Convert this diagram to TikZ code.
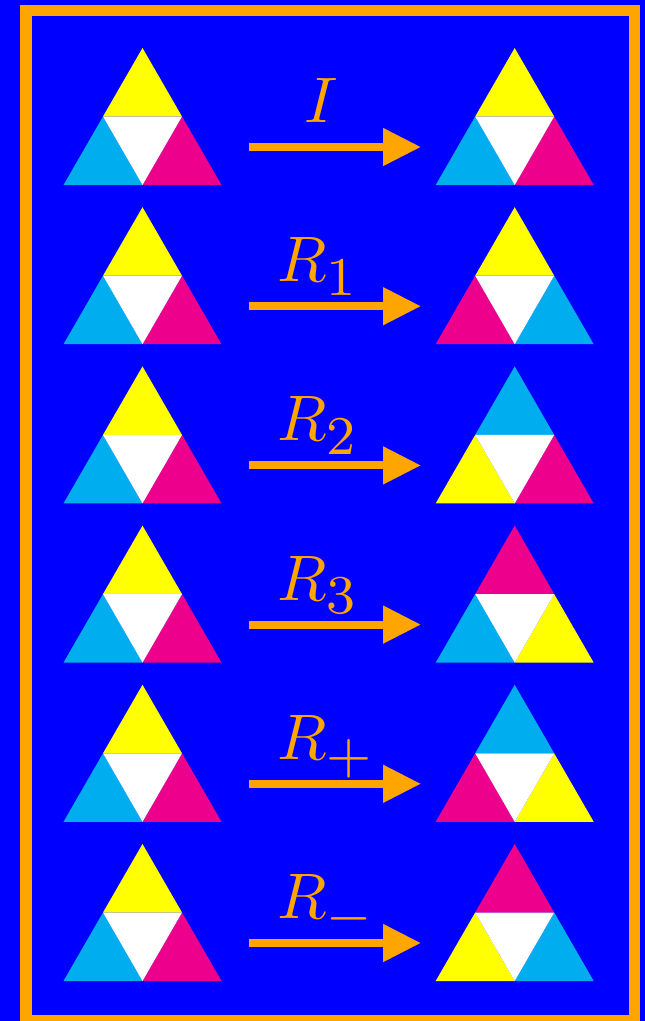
\documentclass[tikz,border=0pt]{standalone}
\usetikzlibrary{arrows.meta}
\definecolor{bgblue}{RGB}{0,0,255}
\definecolor{frameorange}{RGB}{255,165,0}
\definecolor{tyellow}{RGB}{255,255,0}
\definecolor{tcyan}{RGB}{0,174,239}
\definecolor{tmagenta}{RGB}{236,0,140}
\newcommand\sublab[2]{$#1$\raisebox{-2.1pt}{\scalebox{1.06}{\fontsize{7.99}{9}\selectfont$#2$}}}
\tikzset{
  frame/.style={draw=frameorange, line width=11.5pt},
  maparrow/.style={draw=frameorange, line width=8pt, -{Triangle[length=38pt,width=36pt]}},
  maplabel/.style={text=frameorange, font=\fontsize{10}{12}\selectfont, scale=6.44, inner sep=0pt, outer sep=0pt, anchor=base west},
  pics/tri/.style n args={3}{code={
    \fill[#1] (0,0) -- (-39.5,68.5) -- (39.5,68.5) -- cycle;
    \fill[#2] (-39.5,68.5) -- (-79,137) -- (0,137) -- cycle;
    \fill[#3] (39.5,68.5) -- (0,137) -- (79,137) -- cycle;
    \fill[white] (-39.5,68.5) -- (39.5,68.5) -- (0,137) -- cycle;
  }}
}
\newcommand\maprow[7]{% #1 index, #2 apex y, #3 label, #4 label x, #5 top, #6 left, #7 right
  \coordinate (tL#1) at (142.5,#2);
  \coordinate (tR#1) at (514.7,#2);
  \pic at (tL#1) {tri={tyellow}{tcyan}{tmagenta}};
  \pic at (tR#1) {tri={#5}{#6}{#7}};
  \coordinate (as#1) at (249,#2+99);
  \coordinate (ae#1) at (421,#2+99);
  \draw[maparrow] (as#1) -- (ae#1);
  \node[maplabel] (lab#1) at (#4,#2+74.5) {#3};
}
\begin{document}
\begin{tikzpicture}[x=1pt,y=-1pt]
\useasboundingbox (0,0) rectangle (645,1021);
\fill[bgblue] (0,0) rectangle (645,1021);
\draw[frame] (26,10.5) rectangle (634.5,1020.5);
\maprow{1}{48}{$I$}{304}{tyellow}{tcyan}{tmagenta}
\maprow{2}{207.2}{\sublab{R}{1}}{277}{tyellow}{tmagenta}{tcyan}
\maprow{3}{366.4}{\sublab{R}{2}}{277}{tcyan}{tyellow}{tmagenta}
\maprow{4}{525.6}{\sublab{R}{3}}{277}{tmagenta}{tcyan}{tyellow}
\maprow{5}{684.8}{\sublab{R}{+}}{277}{tcyan}{tmagenta}{tyellow}
\maprow{6}{844}{\sublab{R}{-}}{277}{tmagenta}{tyellow}{tcyan}
\end{tikzpicture}
\end{document}
